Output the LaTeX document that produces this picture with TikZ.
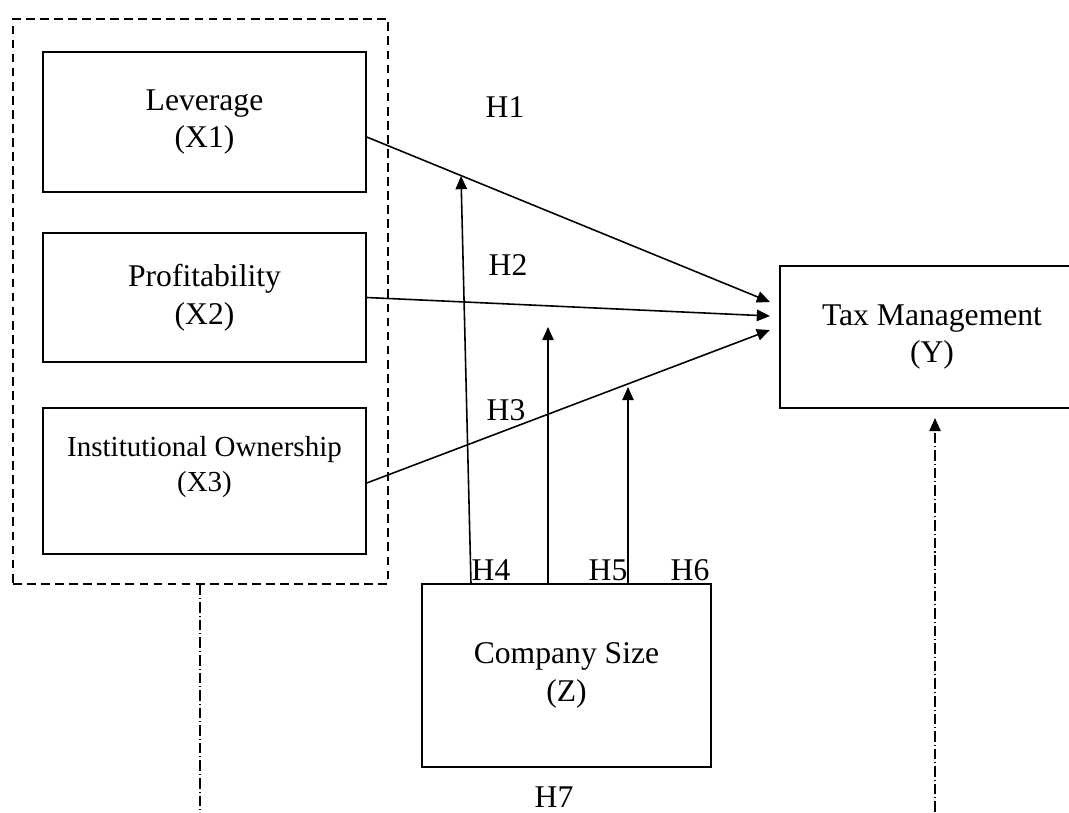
\documentclass[tikz,border=0pt]{standalone}
\usepackage{fontspec}
\setmainfont{Liberation Serif}
\usetikzlibrary{arrows.meta}

\tikzset{
    varbox/.style={draw, line width=0.9pt, align=center, inner sep=0pt,
        font=\fontsize{18}{21.5}\selectfont},
    grpbox/.style={draw, line width=0.9pt, dash pattern=on 5pt off 3pt},
    hyp/.style={font=\fontsize{18}{21.5}\selectfont, inner sep=0pt},
    arr/.style={line width=0.9pt, -{Triangle[length=7.5pt,width=6.5pt]}},
    link/.style={line width=0.9pt, dash pattern=on 6pt off 1.7pt on 0.6pt off 1.7pt}
}

\begin{document}
\begin{tikzpicture}[x=0.02cm, y=-0.02cm]
        \useasboundingbox (0,0) rectangle (1069,812);
        \clip (0,0) rectangle (1069,812);

        % independent variables
        \node[grpbox, minimum width=7.5cm, minimum height=11.3cm] (grp) at (200.5,301.5) {};
        \node[varbox, minimum width=6.46cm, minimum height=2.8cm] (lev) at (204.5,122) {Leverage\\(X1)};
        \node[varbox, minimum width=6.46cm, minimum height=2.58cm] (prof) at (204.5,297.5) {Profitability\\(X2)};
        \node[varbox, minimum width=6.46cm, minimum height=2.92cm,
            font=\fontsize{16.5}{19.5}\selectfont] (inst) at (204.5,481) {Institutional Ownership\\(X3)\\ };

        % dependent and moderating variable
        \node[varbox, minimum width=6.08cm, minimum height=2.84cm] (tax) at (932,337) {Tax Management\\(Y)};
        \node[varbox, minimum width=5.78cm, minimum height=3.66cm] (size) at (566.5,675.5) {Company Size\\(Z)};

        \coordinate (t1) at (770,302);
        \coordinate (t2) at (770,316);
        \coordinate (t3) at (770,330);
        \draw[arr] (lev.east |- 0,137) -- (t1);
        \draw[arr] (prof.east) -- (t2);
        \draw[arr] (inst.east |- 0,483) -- (t3);

        % moderation
        \coordinate (s4) at (471,584);
        \coordinate (s5) at (548,584);
        \coordinate (s6) at (628,584);
        \coordinate (m4) at (461,176);
        \coordinate (m5) at (548,327);
        \coordinate (m6) at (628,387);
        \draw[arr] (s4) -- (m4);
        \draw[arr] (s5) -- (m5);
        \draw[arr] (s6) -- (m6);

        % simultaneous effect
        \coordinate (b1) at (200,812);
        \coordinate (b2) at (935,812);
        \draw[link] (grp.south -| b1) -- (b1);
        \draw[link, -{Triangle[length=7.5pt,width=6.5pt]}] (b2) -- (935,418);

        \node[hyp] (h1) at (505,107) {H1};
        \node[hyp] (h2) at (508,265) {H2};
        \node[hyp] (h3) at (506,410) {H3};
        \node[hyp] (h4) at (491,570) {H4};
        \node[hyp] (h5) at (608,570) {H5};
        \node[hyp] (h6) at (690,570) {H6};
        \node[hyp] (h7) at (554,797) {H7};
    \end{tikzpicture}
\end{document}
